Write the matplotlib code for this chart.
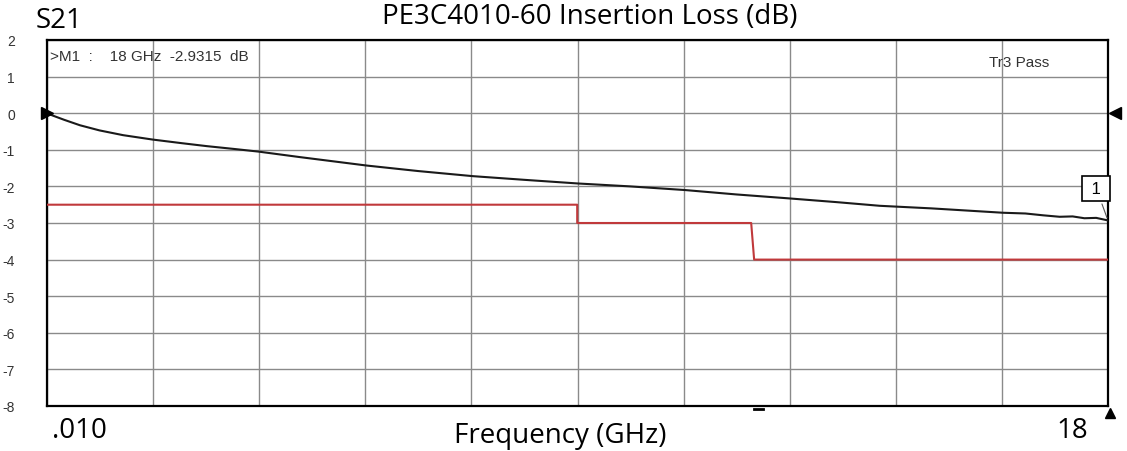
import numpy as np
import matplotlib
matplotlib.use("Agg")
import matplotlib.pyplot as plt

plt.rcParams["axes.unicode_minus"] = False

# S21 trace (GHz, dB)
freq_ghz = [0.01, 0.1, 0.3, 0.57, 0.9, 1.3, 1.8, 2.3, 2.72, 3.2, 3.6, 4.3,
            5.43, 6.3, 7.23, 8.1, 9.01, 9.9, 10.83, 11.7, 12.61, 13.4, 14.13,
            15.0, 16.22, 16.6, 16.9, 17.18, 17.4, 17.6, 17.8, 18.0]
s21_db = [0.0, -0.06, -0.18, -0.33, -0.47, -0.6, -0.72, -0.82, -0.9, -0.98,
          -1.05, -1.2, -1.43, -1.58, -1.72, -1.82, -1.92, -2.0, -2.1, -2.22,
          -2.33, -2.43, -2.53, -2.6, -2.72, -2.74, -2.79, -2.83, -2.82, -2.87,
          -2.86, -2.93]

# pass/fail limit line
limit_f = [0.01, 9.0, 9.0, 11.95, 12.0, 18.0]
limit_db = [-2.5, -2.5, -3.0, -3.0, -4.0, -4.0]

y_ticks = [2, 1, 0, -1, -2, -3, -4, -5, -6, -7, -8]

f_start, f_stop = 0.01, 18.0
marker_f, marker_db = 18.0, -2.9315

fig = plt.figure(figsize=(11.27, 4.52), dpi=100)
fig.patch.set_facecolor("white")
ax = fig.add_axes([47/1127, 1 - 407/452, 1061/1127, 366/452])

ax.set_xlim(f_start, f_stop)
ax.set_ylim(-8, 2)
ax.set_xticks(np.linspace(f_start, f_stop, 11))
ax.set_yticks(y_ticks)
ax.grid(True, color="#8a8a8a", linewidth=1.0)
ax.tick_params(axis="x", length=0, labelbottom=False)
ax.tick_params(axis="y", length=0, labelsize=10, labelcolor="#333333", pad=23)
for lbl in ax.get_yticklabels():
    lbl.set_family("Liberation Sans")
for sp in ax.spines.values():
    sp.set_color("black")
    sp.set_linewidth(1.6)

ax.plot(limit_f, limit_db, color="#c0393b", linewidth=1.5, zorder=3)
ax.plot(freq_ghz, s21_db, color="#1a1a1a", linewidth=1.5, zorder=4)

# marker box "1"
ax.annotate(" 1 ", xy=(marker_f, marker_db), xytext=(17.8, -2.05),
            textcoords="data", ha="center", va="center", fontsize=12,
            family="Liberation Sans",
            bbox=dict(boxstyle="square,pad=0.3", fc="white", ec="black", lw=1.2),
            arrowprops=dict(arrowstyle="-", color="#555555", lw=0.8),
            zorder=6, annotation_clip=False)

# reference triangles
ax.plot([f_start], [0], marker=">", color="black", markersize=9,
        clip_on=False, zorder=7)
ax.plot([f_stop + 0.12], [0], marker="<", color="black", markersize=9,
        clip_on=False, zorder=7)
ax.plot([f_stop + 0.03], [-8.2], marker="^", color="black", markersize=7,
        clip_on=False, zorder=7)
ax.plot([12.0, 12.15], [-8.07, -8.07], color="black", lw=2, clip_on=False)

ax.text(0.003, 0.975, ">M1  :    18 GHz  -2.9315  dB", transform=ax.transAxes,
        fontsize=11, family="Liberation Sans", color="#333333", va="top")
ax.text(0.888, 0.96, "Tr3 Pass", transform=ax.transAxes, fontsize=11,
        family="Liberation Sans", color="#333333", va="top")

fig.text(36/1127, 1 - 21/452, "S21", fontsize=20, family="Open Sans",
         va="center", ha="left")
fig.text(590/1127, 1 - 17/452, "PE3C4010-60 Insertion Loss (dB)", fontsize=20,
         family="Open Sans", va="center", ha="center")
fig.text(52/1127, 1 - 431/452, ".010", fontsize=20, family="Open Sans",
         va="center", ha="left")
fig.text(560/1127, 1 - 436/452, "Frequency (GHz)", fontsize=20,
         family="Open Sans", va="center", ha="center")
fig.text(1072/1127, 1 - 431/452, "18", fontsize=20, family="Open Sans",
         va="center", ha="center")

fig.savefig("out.png", dpi=100)
